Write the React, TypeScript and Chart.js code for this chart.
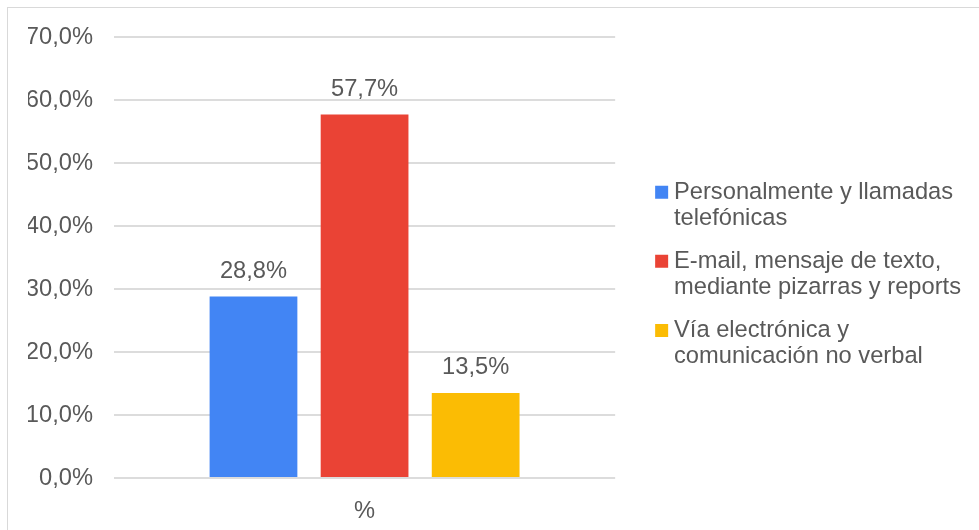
import React, { useEffect, useRef } from "react";
import { Chart, registerables } from "chart.js";

Chart.register(...registerables);

// ---- data ----
const categories = ["%"];
const seriesNames: string[][] = [
  ["Personalmente y llamadas", "telefónicas"],
  ["E-mail, mensaje de texto,", "mediante pizarras y reports"],
  ["Vía electrónica y", "comunicación no verbal"],
];
const personalmente = [28.8];
const email = [57.7];
const viaElectronica = [13.5];
const seriesColors = ["#4285F4", "#EA4335", "#FBBC04"];
const yMin = 0;
const yMax = 70;
const yStep = 10;

const FONT = "'Liberation Sans', Arial, sans-serif";
const TEXT = "#595959";
const FS = 23.7;

const fmt = (v: number) => v.toFixed(1).replace(".", ",") + "%";

const valueLabels = {
  id: "valueLabels",
  afterDatasetsDraw(chart: any) {
    const ctx = chart.ctx;
    ctx.save();
    ctx.font = `${FS}px ${FONT}`;
    ctx.fillStyle = TEXT;
    ctx.textAlign = "center";
    ctx.textBaseline = "middle";
    chart.data.datasets.forEach((ds: any, i: number) => {
      const meta = chart.getDatasetMeta(i);
      meta.data.forEach((el: any, j: number) => {
        ctx.fillText(fmt(ds.data[j]), el.x, el.y - 25);
      });
    });
    ctx.restore();
  },
};

export default function App() {
  const ref = useRef<HTMLCanvasElement>(null);

  useEffect(() => {
    if (!ref.current) return;
    const values = [personalmente, email, viaElectronica];
    const chart = new Chart(ref.current, {
      type: "bar",
      data: {
        labels: categories,
        datasets: values.map((d, i) => ({
          label: seriesNames[i].join(" "),
          data: d,
          backgroundColor: seriesColors[i],
          borderWidth: 0,
          categoryPercentage: 0.665,
          barPercentage: 0.79,
          yAxisID: "y",
          pointStyle: "rect",
        })),
      },
      options: {
        animation: false,
        responsive: true,
        maintainAspectRatio: false,
        layout: { padding: { top: 14, left: 20, right: 8, bottom: 0 } },
        scales: {
          x: {
            grid: { display: false, drawTicks: false },
            border: { display: false },
            ticks: {
              color: TEXT,
              font: { family: FONT, size: FS },
              padding: 19,
            },
            afterFit: (s: any) => {
              s.height = 52;
            },
          },
          y: {
            min: yMin,
            max: yMax,
            grid: { color: "#dcdcdc", lineWidth: 2, drawTicks: false },
            border: { display: false },
            ticks: {
              stepSize: yStep,
              color: TEXT,
              font: { family: FONT, size: FS },
              padding: 21,
              callback: (v: any) => fmt(Number(v)),
            },
            afterFit: (s: any) => {
              s.width = 86;
              s.paddingTop = 29;
              s.paddingBottom = 0;
            },
          },
          yGap: {
            position: "right",
            display: true,
            grid: { display: false, drawTicks: false },
            border: { display: false },
            ticks: { display: false },
            afterFit: (s: any) => {
              s.width = 30;
            },
          },
        },
        plugins: {
          tooltip: { enabled: false },
          legend: {
            position: "right",
            maxWidth: 420,
            labels: {
              color: TEXT,
              font: { family: FONT, size: FS, lineHeight: 1.12 },
              usePointStyle: true,
              boxWidth: 1,
              boxHeight: 13,
              padding: 16,
              generateLabels: (c: any) =>
                Chart.defaults.plugins.legend.labels
                  .generateLabels(c)
                  .map((it: any) => ({ ...it, text: seriesNames[it.datasetIndex] })),
            },
          },
        },
      } as any,
      plugins: [valueLabels],
    });
    return () => chart.destroy();
  }, []);

  return (
    <div
      style={{
        position: "fixed",
        left: 7,
        top: 7,
        width: 990,
        height: 540,
        border: "1px solid #d9d9d9",
        background: "#fff",
      }}
    >
      <div style={{ position: "absolute", left: 0, top: 0, width: 971, height: 522 }}>
        <canvas ref={ref} />
      </div>
    </div>
  );
}
